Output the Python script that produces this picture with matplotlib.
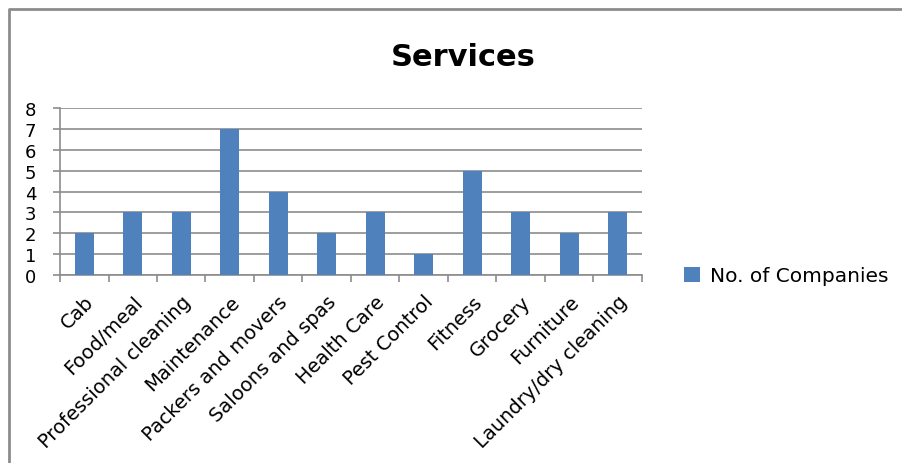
import matplotlib.pyplot as plt
from matplotlib.lines import Line2D
from matplotlib.transforms import ScaledTranslation
import numpy as np

plt.rcParams['font.family'] = ['DejaVu Sans']

services = ['Cab', 'Food/meal', 'Professional cleaning', 'Maintenance',
            'Packers and movers', 'Saloons and spas', 'Health Care',
            'Pest Control', 'Fitness', 'Grocery', 'Furniture',
            'Laundry/dry cleaning']
companies = [2, 3, 3, 7, 4, 2, 3, 1, 5, 3, 2, 3]

W, H = 903, 464
fig = plt.figure(figsize=(W / 100, H / 100), dpi=100)
ax = fig.add_axes([60 / W, 1 - 276 / H, (642 - 60) / W, (276 - 109) / H])

x = np.arange(len(services))
ax.bar(x, companies, width=0.4, color='#4F81BD', zorder=3,
       label='No. of Companies')

ax.set_xlim(-0.5, len(services) - 0.5)
ax.set_ylim(0, 8)
ax.set_yticks(range(0, 9))
ax.yaxis.grid(True, color='#8c8c8c', linewidth=1.2, zorder=0)

for side in ['top', 'right']:
    ax.spines[side].set_visible(False)
for side in ['left', 'bottom']:
    ax.spines[side].set_color('#8c8c8c')
    ax.spines[side].set_linewidth(1.2)

ax.set_xticks(x)
ax.set_xticklabels(services, rotation=45, ha='right', va='top',
                   rotation_mode='anchor', fontsize=14)
# nudge the rotated labels a little to the right
shift = ScaledTranslation(6 / 100, 0, fig.dpi_scale_trans)
for lbl in ax.get_xticklabels():
    lbl.set_transform(lbl.get_transform() + shift)
ax.set_xticks(np.arange(-0.5, len(services)), minor=True)
ax.tick_params(axis='x', which='major', length=0, pad=12)
ax.tick_params(axis='x', which='minor', length=5, color='#8c8c8c', width=1.2)
ax.tick_params(axis='y', length=5, color='#8c8c8c', width=1.2, pad=12,
               labelsize=13)

fig.text(463 / W, 1 - 57 / H, 'Services', ha='center', va='center',
         fontsize=22, fontweight='bold')

fig.legend(loc='center left', bbox_to_anchor=(666 / W, 1 - 277 / H),
           frameon=False, fontsize=14.5, handlelength=0.8, handleheight=0.8,
           handletextpad=0.5)

# chart frame
fig.add_artist(Line2D([8.5 / W, 8.5 / W, 1], [0, 1 - 9.5 / H, 1 - 9.5 / H],
                      transform=fig.transFigure, color='#8c8c8c', linewidth=2))

fig.savefig('out.png', dpi=100)
